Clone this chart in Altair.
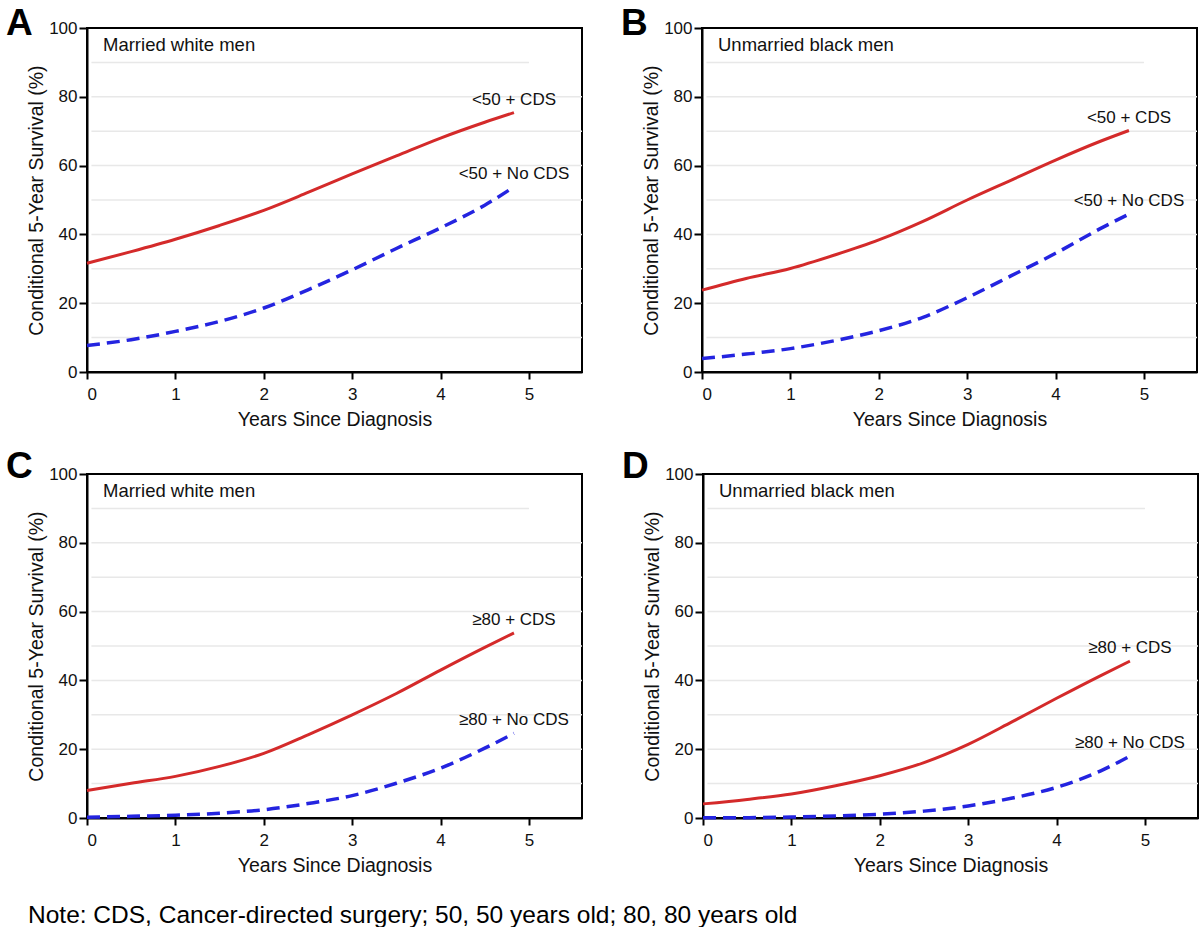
import altair as alt
import pandas as pd

FONT = "Liberation Sans"
RED = "#d42a2a"
BLUE = "#2424e0"

YEARS = [0, 0.5, 1, 1.5, 2, 2.5, 3, 3.5, 4, 4.5, 4.83]
A_CDS = [31.6, 35.0, 38.6, 42.6, 47.0, 52.2, 57.6, 62.8, 68.0, 72.6, 75.4]
A_NOCDS = [7.7, 9.4, 11.8, 14.7, 18.6, 23.9, 29.7, 35.9, 41.9, 48.5, 53.8]
B_CDS = [23.8, 27.2, 30.1, 34.0, 38.4, 43.8, 50.0, 55.8, 61.6, 67.0, 70.2]
B_NOCDS = [3.9, 5.2, 6.8, 9.1, 12.0, 15.9, 21.6, 28.0, 34.5, 41.6, 45.9]
C_CDS = [8.0, 10.1, 12.1, 15.0, 18.8, 24.2, 30.0, 36.2, 43.0, 49.6, 53.8]
C_NOCDS = [0.2, 0.5, 0.8, 1.4, 2.4, 4.2, 6.5, 10.1, 14.5, 20.3, 24.6]
D_CDS = [4.1, 5.4, 7.0, 9.4, 12.3, 16.1, 21.4, 28.0, 34.8, 41.4, 45.6]
D_NOCDS = [0.1, 0.1, 0.3, 0.6, 1.1, 2.0, 3.5, 5.8, 8.9, 13.7, 18.0]

X_TICKS = [0, 1, 2, 3, 4, 5]
Y_TICKS = [0, 20, 40, 60, 80, 100]
GRID_Y = [10, 20, 30, 40, 50, 60, 70, 80, 90]
GRID_X0 = [0.05] * 9
GRID_X1 = [5.6, 5.6, 5.6, 5.6, 5.6, 5.6, 5.6, 5.6, 5.0]

NOTE = "Note: CDS, Cancer-directed surgery; 50, 50 years old; 80, 80 years old"

W, H = 495, 344
XDOM = [0, 5.6]

AX_X = alt.Axis(values=X_TICKS, title="Years Since Diagnosis", grid=False,
                tickSize=7, labelPadding=7, titlePadding=8)
AX_Y = alt.Axis(values=Y_TICKS, title="Conditional 5-Year Survival (%)", grid=False,
                tickSize=8, labelPadding=2, titlePadding=2)


def X(field):
    return alt.X(field, type="quantitative", scale=alt.Scale(domain=XDOM, nice=False, zero=False), axis=AX_X)


def Y(field):
    return alt.Y(field, type="quantitative", scale=alt.Scale(domain=[0, 100], nice=False), axis=AX_Y)


def panel(letter, letter_y, group, cds, nocds, lab_cds, lab_nocds):
    n = len(YEARS)
    df = pd.DataFrame({
        "year": YEARS + YEARS,
        "surv": cds + nocds,
        "series": ["cds"] * n + ["nocds"] * n,
    })
    grid_df = pd.DataFrame({"g": GRID_Y, "x0": GRID_X0, "x1": GRID_X1})
    grid = alt.Chart(grid_df).mark_rule(color="#e8e8e8", strokeWidth=1.5).encode(
        x=X("x0"), x2="x1:Q", y=Y("g"))
    red = alt.Chart(df).transform_filter(alt.datum.series == "cds").mark_line(
        color=RED, strokeWidth=3, interpolate="monotone").encode(x=X("year"), y=Y("surv"))
    blue = alt.Chart(df).transform_filter(alt.datum.series == "nocds").mark_line(
        color=BLUE, strokeWidth=3.5, strokeDash=[13, 7], interpolate="monotone").encode(
        x=X("year"), y=Y("surv"))
    lab_df = pd.DataFrame({"year": [YEARS[-1], YEARS[-1]], "surv": [cds[-1], nocds[-1]],
                           "lab": [lab_cds, lab_nocds]})
    labels = alt.Chart(lab_df).mark_text(font=FONT, fontSize=17, color="#111", align="center",
                                         baseline="alphabetic", dy=-8).encode(
        x=X("year"), y=Y("surv"), text="lab:N")
    grp = alt.Chart(pd.DataFrame({"t": [group]})).mark_text(
        font=FONT, fontSize=18.5, color="#111", align="left", baseline="alphabetic").encode(
        x=alt.value(16), y=alt.value(23), text="t:N")
    let = alt.Chart(pd.DataFrame({"t": [letter]})).mark_text(
        font=FONT, fontSize=37, fontWeight="bold", color="black", align="left",
        baseline="alphabetic").encode(x=alt.value(-81), y=alt.value(letter_y), text="t:N")
    return alt.layer(grid, red, blue, labels, grp, let).properties(width=W, height=H)


pA = panel("A", 7, "Married white men", A_CDS, A_NOCDS, "<50 + CDS", "<50 + No CDS")
pB = panel("B", 7, "Unmarried black men", B_CDS, B_NOCDS, "<50 + CDS", "<50 + No CDS")
pC = panel("C", 4, "Married white men", C_CDS, C_NOCDS, "≥80 + CDS", "≥80 + No CDS")
pD = panel("D", 4, "Unmarried black men", D_CDS, D_NOCDS, "≥80 + CDS", "≥80 + No CDS")

row1 = alt.hconcat(pA, pB, spacing=36)
row2 = alt.hconcat(pC, pD, spacing=37)

chart = alt.vconcat(row1, row2, spacing=17).properties(
    title=alt.TitleParams(NOTE, orient="bottom", anchor="start", frame="bounds",
                          font=FONT, fontSize=24.5, fontWeight="normal", color="black",
                          offset=28, dx=23),
    padding={"left": 5, "top": 4, "right": 0, "bottom": 0},
    background="white",
).configure_view(stroke="black", strokeWidth=2).configure_axis(
    domainColor="black", domainWidth=2, tickColor="black", tickWidth=2,
    labelFont=FONT, labelFontSize=17, labelColor="#111",
    titleFont=FONT, titleFontSize=19.5, titleFontWeight="normal", titleColor="#111",
)

chart.save("out.html", embed_options={"renderer": "svg", "actions": False})
